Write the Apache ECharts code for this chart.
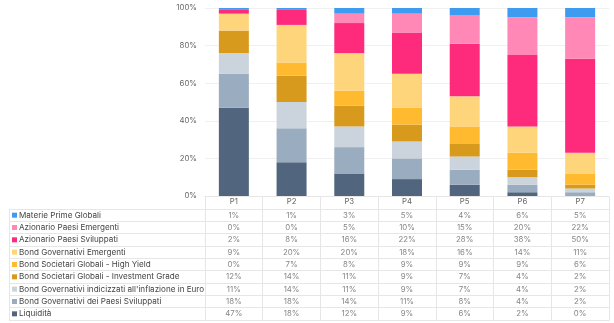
<!DOCTYPE html>
<html>
<head>
<meta charset="utf-8">
<script src="https://cdn.jsdelivr.net/npm/echarts@6/dist/echarts.min.js"></script>
<style>
  html, body { margin: 0; padding: 0; background: #fff; }
  #chart { width: 614px; height: 323px; }
</style>
</head>
<body>
<div id="chart"></div>
<script>
// portfolios P1..P7, allocation in % per asset class
const periods = ['P1', 'P2', 'P3', 'P4', 'P5', 'P6', 'P7']
const rowNames = [
  'Materie Prime Globali',
  'Azionario Paesi Emergenti',
  'Azionario Paesi Sviluppati',
  'Bond Governativi Emergenti',
  'Bond Societari Globali - High Yield',
  'Bond Societari Globali - Investment Grade',
  'Bond Governativi indicizzati all\'inflazione in Euro',
  'Bond Governativi dei Paesi Sviluppati',
  'Liquidità'
]
const materiePrime = [1, 1, 3, 5, 4, 6, 5]
const azionarioEmergenti = [0, 0, 5, 10, 15, 20, 22]
const azionarioSviluppati = [2, 8, 16, 22, 28, 38, 50]
const bondGovEmergenti = [9, 20, 20, 18, 16, 14, 11]
const highYield = [0, 7, 8, 9, 9, 9, 6]
const investmentGrade = [12, 14, 11, 9, 7, 4, 2]
const inflazioneEuro = [11, 14, 11, 9, 7, 4, 2]
const bondGovSviluppati = [18, 18, 14, 11, 8, 4, 2]
const liquidita = [47, 18, 12, 9, 6, 2, 0]
const yTicks = [0, 20, 40, 60, 80, 100]

const rowValues = [materiePrime, azionarioEmergenti, azionarioSviluppati, bondGovEmergenti,
  highYield, investmentGrade, inflazioneEuro, bondGovSviluppati, liquidita]
const rowColors = ['#3d9cf0', '#ff88b6', '#fe2a7c', '#ffd57c', '#ffba2f', '#d89a1c', '#cbd3dc', '#9aacbf', '#51667e']

const font = 'Inter'
const textColor = '#666'
const lineColor = '#e6e6e6'

// legend squares for the table labels
const rich = { t: { fontFamily: font, fontSize: 8.1, color: '#444', padding: [0, 0, 0, 2] } }
rowColors.forEach((c, i) => {
  rich['s' + i] = { backgroundColor: c, width: 5, height: 5 }
})

// stacked bars: bottom row of the table sits at the bottom of the stack
const barSeries = rowNames.map((name, i) => ({
  name: name,
  type: 'bar',
  stack: 'tot',
  xAxisIndex: 0,
  yAxisIndex: 0,
  barWidth: 30,
  itemStyle: { color: rowColors[i] },
  data: rowValues[i]
})).reverse()

const cellData = []
rowValues.forEach((vals, r) => {
  vals.forEach((v, c) => cellData.push([c, r, v]))
})

const chart = echarts.init(document.getElementById('chart'))
chart.setOption({
  animation: false,
  textStyle: { fontFamily: font },
  grid: [
    { left: 205, right: 5, top: 8, bottom: 127 },
    { left: 205, right: 5, top: 209, bottom: 3 }
  ],
  xAxis: [
    {
      gridIndex: 0,
      type: 'category',
      data: periods,
      axisLabel: { show: false },
      axisTick: { show: false },
      axisLine: { lineStyle: { color: lineColor } }
    },
    {
      gridIndex: 1,
      type: 'category',
      position: 'top',
      data: periods,
      axisLabel: { interval: 0, fontFamily: font, fontSize: 7.8, color: textColor, margin: 3 },
      axisTick: { show: true, interval: 0, length: 12, lineStyle: { color: lineColor } },
      axisLine: { lineStyle: { color: lineColor } },
      splitLine: { show: true, interval: 0, lineStyle: { color: lineColor } }
    },
    {
      gridIndex: 1,
      type: 'category',
      position: 'bottom',
      data: periods,
      axisLabel: { show: false },
      axisTick: { show: false },
      axisLine: { lineStyle: { color: lineColor } }
    }
  ],
  yAxis: [
    {
      gridIndex: 0,
      type: 'value',
      min: yTicks[0],
      max: yTicks[yTicks.length - 1],
      interval: 20,
      axisLabel: { formatter: '{value}%', fontFamily: font, fontSize: 7.8, color: textColor, margin: 8 },
      axisLine: { show: false },
      axisTick: { show: false },
      splitLine: { lineStyle: { color: '#f0f0f0' } }
    },
    {
      gridIndex: 1,
      type: 'category',
      inverse: true,
      data: rowNames,
      axisLine: { lineStyle: { color: lineColor } },
      axisTick: { show: true, interval: 0, length: 196, lineStyle: { color: lineColor } },
      splitLine: { show: true, interval: 0, lineStyle: { color: lineColor } },
      axisLabel: {
        interval: 0,
        align: 'left',
        margin: 193,
        formatter: (val, idx) => '{s' + idx + '|}{t|' + val + '}',
        rich: rich
      }
    },
    {
      gridIndex: 1,
      type: 'category',
      inverse: true,
      data: rowNames,
      position: 'left',
      offset: 196,
      axisLine: { lineStyle: { color: lineColor } },
      axisTick: { show: false },
      axisLabel: { show: false }
    },
    {
      gridIndex: 1,
      type: 'category',
      inverse: true,
      data: rowNames,
      position: 'right',
      axisLine: { lineStyle: { color: lineColor } },
      axisTick: { show: false },
      axisLabel: { show: false }
    }
  ],
  series: barSeries.concat([{
    type: 'scatter',
    xAxisIndex: 1,
    yAxisIndex: 1,
    symbolSize: 0,
    silent: true,
    label: {
      show: true,
      position: 'inside',
      fontFamily: font,
      fontSize: 7.8,
      color: textColor,
      formatter: p => p.value[2] + '%'
    },
    data: cellData
  }])
})
</script>
</body>
</html>
